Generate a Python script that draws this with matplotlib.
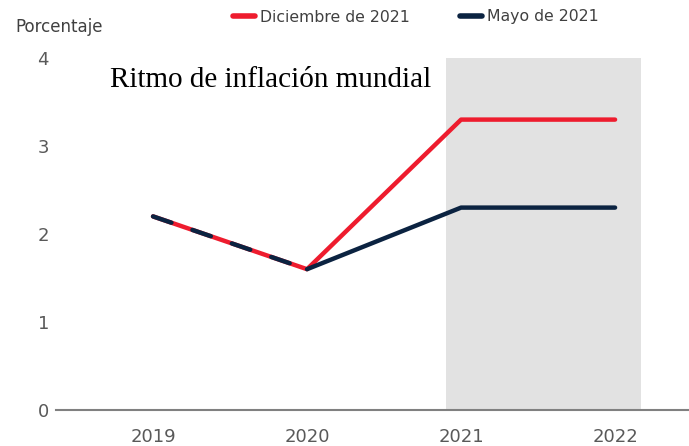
import matplotlib.pyplot as plt
from matplotlib.lines import Line2D

years = ["2019", "2020", "2021", "2022"]
dic_2021 = [2.2, 1.6, 3.3, 3.3]
mayo_2021 = [2.2, 1.6, 2.3, 2.3]
shade_span = (1.9, 3.17)  # projection zone, in category positions
y_ticks = [0, 1, 2, 3, 4]

RED = "#EE1C2E"
NAVY = "#0B2341"
GREY_TXT = "#595959"

plt.rcParams["lines.scale_dashes"] = False

fig = plt.figure(figsize=(6.89, 4.46), dpi=100)
ax = fig.add_axes([56 / 689, 1 - 410 / 446, 1 - 56 / 689, (410 - 58) / 446])

x = list(range(len(years)))

ax.axvspan(*shade_span, color="#E2E2E2", zorder=0, lw=0)

# red line (full), navy line from 2020 on, navy dashes over the shared segment
ax.plot(x, dic_2021, color=RED, lw=3.2, solid_capstyle="round", solid_joinstyle="round", zorder=3)
ax.plot(x[1:], mayo_2021[1:], color=NAVY, lw=3.2, solid_capstyle="round", solid_joinstyle="round", zorder=4)
ax.plot(x[:2], mayo_2021[:2], color=NAVY, lw=3.2, dashes=(14, 16), dash_capstyle="round", zorder=5)

ax.set_xlim(-0.63, 3.48)
ax.set_ylim(0, 4)
ax.set_xticks(x)
ax.set_xticklabels(years)
ax.set_yticks(y_ticks)

for s in ["left", "right", "top"]:
    ax.spines[s].set_visible(False)
ax.spines["bottom"].set_color("#808080")
ax.spines["bottom"].set_linewidth(1.5)
ax.spines["bottom"].set_zorder(6)
ax.tick_params(length=0, labelsize=13, colors=GREY_TXT)
ax.tick_params(axis="x", pad=13)
ax.tick_params(axis="y", pad=5)
ax.patch.set_visible(False)

fig.text(110 / 689, 1 - 80 / 446, "Ritmo de inflación mundial",
         family="Liberation Serif", fontsize=21, va="center", ha="left", color="black")
fig.text(15 / 689, 1 - 27 / 446, "Porcentaje", fontsize=12, color="#404040", va="center")

# legend at top
handles = [Line2D([], [], color=RED, lw=4, solid_capstyle="round"),
           Line2D([], [], color=NAVY, lw=4, solid_capstyle="round")]
fig.legend(handles, ["Diciembre de 2021", "Mayo de 2021"], loc="center", ncol=2,
           bbox_to_anchor=(416 / 689, 1 - 17 / 446), frameon=False, fontsize=11.3,
           handlelength=1.4, handletextpad=0.3, columnspacing=3.2, labelcolor="#404040")

fig.savefig("out.png", dpi=100)
